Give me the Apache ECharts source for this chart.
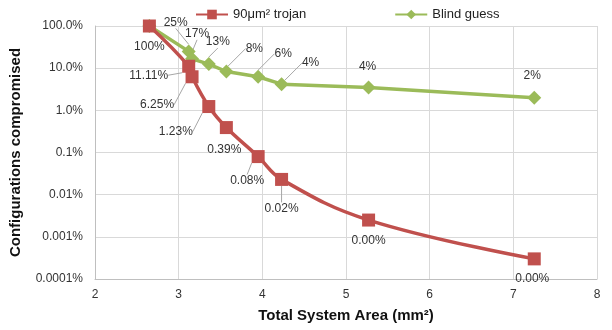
<!DOCTYPE html>
<html>
<head>
<meta charset="utf-8">
<script src="https://cdn.jsdelivr.net/npm/echarts@6/dist/echarts.min.js"></script>
<style>
  html, body { margin: 0; padding: 0; background: #fff; }
  #chart { width: 612px; height: 330px; }
</style>
</head>
<body>
<div id="chart"></div>
<script>
  // data (y values in %)
  var trojanArea = [2.65, 3.12, 3.16, 3.36, 3.57, 3.95, 4.23, 5.27, 7.25];
  var trojanPct = [100, 11.11, 6.25, 1.23, 0.39, 0.08, 0.023, 0.0025, 0.0003];
  var trojanLabels = ['100%', '11.11%', '6.25%', '1.23%', '0.39%', '0.08%', '0.02%', '0.00%', '0.00%'];

  var guessArea = [2.65, 3.12, 3.16, 3.36, 3.57, 3.95, 4.23, 5.27, 7.25];
  var guessPct = [100, 25, 16.67, 12.5, 8.33, 6.25, 4.17, 3.5, 2.0];
  var guessLabels = ['', '25%', '17%', '13%', '8%', '6%', '4%', '4%', '2%'];

  var yTickLabels = ['0.0001%', '0.001%', '0.01%', '0.1%', '1.0%', '10.0%', '100.0%'];

  // label offsets (px) from each point, and which labels get a leader line
  var trojanOffsets = [[0, 21], [-40, 9], [-35, 28], [-33, 25], [-2, 22], [-11, 24], [0, 29], [0, 21], [-2, 20]];
  var trojanLeader = [false, true, true, true, false, true, true, false, false];
  var guessOffsets = [[0, 0], [-13, -29], [5, -25], [9, -22], [28, -23], [25, -23], [29, -21], [-1, -21], [-2, -22]];
  var guessLeader = [false, true, true, true, true, true, true, false, false];

  var chart = echarts.init(document.getElementById('chart'));

  function points(xs, ys, leader) {
    return xs.map(function (x, i) {
      return { value: [x, ys[i]], labelLine: { show: leader[i] } };
    });
  }

  function layout(offsets) {
    return function (p) {
      var o = offsets[p.dataIndex];
      return { dx: o[0], dy: o[1] };
    };
  }

  var option = {
    animation: false,
    textStyle: { fontFamily: 'Liberation Sans, Arial, sans-serif' },
    legend: {
      top: 3,
      left: 190,
      itemGap: 88,
      itemWidth: 32,
      itemHeight: 12,
      textStyle: { fontSize: 13, color: '#222' },
      data: ['90μm² trojan', 'Blind guess']
    },
    grid: { left: 95, right: 15, top: 26, bottom: 51 },
    xAxis: {
      type: 'value',
      min: 2,
      max: 8,
      interval: 1,
      name: 'Total System Area (mm²)',
      nameLocation: 'middle',
      nameGap: 29,
      nameTextStyle: { fontSize: 15, fontWeight: 'bold', color: '#111' },
      axisLine: { lineStyle: { color: '#bfbfbf' } },
      axisTick: { show: false },
      axisLabel: { fontSize: 12, color: '#333', margin: 10 },
      splitLine: { lineStyle: { color: '#d9d9d9' } }
    },
    yAxis: {
      type: 'log',
      logBase: 10,
      min: 0.0001,
      max: 100,
      name: 'Configurations compromised',
      nameLocation: 'middle',
      nameGap: 72,
      nameTextStyle: { fontSize: 15, fontWeight: 'bold', color: '#111' },
      axisLine: { show: true, lineStyle: { color: '#bfbfbf' } },
      axisTick: { show: false },
      axisLabel: {
        fontSize: 12,
        color: '#333',
        margin: 12,
        formatter: function (v) {
          return yTickLabels[Math.round(Math.log10(v)) + 4];
        }
      },
      splitLine: { lineStyle: { color: '#d9d9d9' } }
    },
    series: [
      {
        name: 'Blind guess',
        type: 'line',
        z: 2,
        data: points(guessArea, guessPct, guessLeader),
        symbol: 'diamond',
        symbolSize: 14,
        itemStyle: { color: '#9bbb59' },
        lineStyle: { width: 3.5, color: '#9bbb59' },
        label: {
          show: true,
          position: 'inside',
          fontSize: 12,
          color: '#333',
          formatter: function (p) { return guessLabels[p.dataIndex]; }
        },
        labelLine: { show: true, lineStyle: { color: '#a6a6a6', width: 1 } },
        labelLayout: layout(guessOffsets)
      },
      {
        name: '90μm² trojan',
        type: 'line',
        z: 3,
        smooth: 0.4,
        data: points(trojanArea, trojanPct, trojanLeader),
        symbol: 'rect',
        symbolSize: 13,
        itemStyle: { color: '#c0504d' },
        lineStyle: { width: 3.5, color: '#c0504d' },
        label: {
          show: true,
          position: 'inside',
          fontSize: 12,
          color: '#333',
          formatter: function (p) { return trojanLabels[p.dataIndex]; }
        },
        labelLine: { show: true, lineStyle: { color: '#a6a6a6', width: 1 } },
        labelLayout: layout(trojanOffsets)
      }
    ]
  };

  chart.setOption(option);
</script>
</body>
</html>
